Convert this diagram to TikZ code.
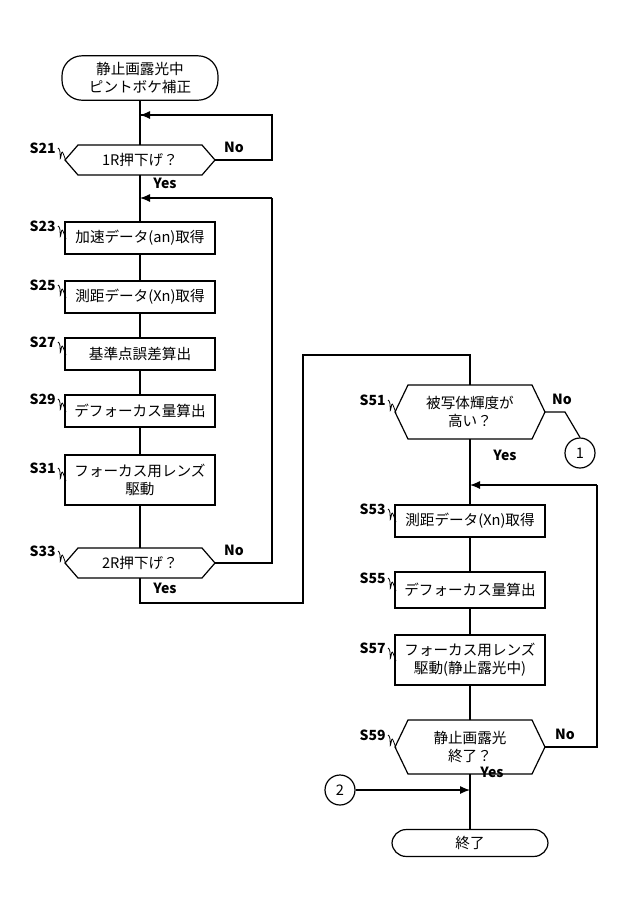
\documentclass[tikz,border=0pt]{standalone}
\usepackage{fontspec}
\setmainfont{Noto Sans CJK JP}
\usetikzlibrary{arrows.meta}
\begin{document}
\begin{tikzpicture}[x=0.5pt,y=-0.5pt,
  every node/.style={font=\fontsize{7.3}{8.8}\selectfont,align=center},
  box/.style={draw,line width=0.6pt,minimum width=75pt,inner sep=1pt},
  term/.style={draw,line width=0.6pt,rounded corners=10pt,minimum width=78pt},
  hid/.style={minimum width=60pt,inner sep=0pt},
  ln/.style={line width=0.6pt},
  arr/.style={line width=0.6pt,-{Latex[length=5pt,width=4pt]}},
  lab/.style={font=\fontsize{7}{8}\selectfont\bfseries},
  circ/.style={draw,circle,line width=0.6pt,minimum size=15pt,inner sep=0pt}]
\useasboundingbox (0,0) rectangle (640,923);
\newcommand\hexa[5]{% name, x, y, halfh(px), text
  \node[hid] (#1) at (#2,#3) {#5};
  \draw[ln] (#2-62,#3-#4) -- (#2+62,#3-#4) -- (#2+75,#3) -- (#2+62,#3+#4) -- (#2-62,#3+#4) -- (#2-75,#3) -- cycle;}
\newcommand\slab[4]{% name, text, target x,y
  \node[lab,anchor=east,inner sep=1pt] (#1) at (#3-7,#4-12) {#2};
  \draw[line width=0.4pt] (#1.east) .. controls +(2pt,-1pt) and +(-1pt,-4pt) .. (#3-4,#4-4) .. controls +(0.5pt,3pt) .. (#3+1,#4+1);}
% left column
\node[term,minimum height=22pt] (st) at (140,78) {静止画露光中\\ピントボケ補正};
\hexa{s21}{140}{160}{15}{1R押下げ？}
\node[box,minimum height=16pt] (s23) at (140,238) {加速データ(an)取得};
\node[box,minimum height=16pt] (s25) at (140,297) {測距データ(Xn)取得};
\node[box,minimum height=16pt] (s27) at (140,354) {基準点誤差算出};
\node[box,minimum height=16pt] (s29) at (140,411) {デフォーカス量算出};
\node[box,minimum height=25pt] (s31) at (140,480) {フォーカス用レンズ\\駆動};
\hexa{s33}{140}{563}{15}{2R押下げ？}
\slab{l21}{S21}{65}{160}
\slab{l23}{S23}{65}{238}
\slab{l25}{S25}{65}{297}
\slab{l27}{S27}{65}{354}
\slab{l29}{S29}{65}{411}
\slab{l31}{S31}{65}{480}
\slab{l33}{S33}{65}{563}
\coordinate (j1) at (140,115);
\coordinate (j2) at (140,198);
\draw[ln] (st) -- (140,145);
\draw[ln] (215,160) -- (272,160) -- (272,115) -- (140,115);
\draw[arr] (272,115) -- (j1);
\node[lab,anchor=south west] (n21) at (217,160) {No};
\draw[ln] (140,175) -- (s23);
\node[lab] (y21) at (165,183) {Yes};
\draw[ln] (s23) -- (s25); \draw[ln] (s25) -- (s27); \draw[ln] (s27) -- (s29);
\draw[ln] (s29) -- (s31); \draw[ln] (s31) -- (140,548);
\draw[ln] (215,563) -- (272,563) -- (272,198);
\draw[arr] (272,198) -- (j2);
\node[lab,anchor=south west] (n33) at (217,563) {No};
\node[lab] (y33) at (165,588) {Yes};
% right column
\hexa{s51}{470}{412}{27}{被写体輝度が\\高い？}
\node[box,minimum height=16pt] (s53) at (470,521) {測距データ(Xn)取得};
\node[box,minimum height=18pt] (s55) at (470,590) {デフォーカス量算出};
\node[box,minimum height=25pt] (s57) at (470,660) {フォーカス用レンズ\\駆動(静止露光中)};
\hexa{s59}{470}{747}{27}{静止画露光\\終了？}
\node[term,minimum height=13pt,rounded corners=7pt] (end) at (470,843) {終了};
\slab{l51}{S51}{395}{412}
\slab{l53}{S53}{395}{521}
\slab{l55}{S55}{395}{590}
\slab{l57}{S57}{395}{660}
\slab{l59}{S59}{395}{747}
\draw[ln] (140,578) -- (140,603) -- (303,603) -- (303,355) -- (470,355) -- (470,385);
\node[circ] (c1) at (580,453) {1};
\draw[ln] (545,412) -- (565,412) -- (c1.north);
\node[lab,anchor=south west] (n51) at (545,412) {No};
\node[lab] (y51) at (505,455) {Yes};
\coordinate (j3) at (470,485);
\draw[ln] (470,439) -- (s53.north);
\draw[ln] (545,747) -- (597,747) -- (597,485);
\draw[arr] (597,485) -- (j3);
\node[lab,anchor=south west] (n59) at (548,747) {No};
\draw[ln] (s53) -- (s55); \draw[ln] (s55) -- (s57); \draw[ln] (s57) -- (470,720);
\node[lab] (y59) at (492,772) {Yes};
\draw[ln] (470,774) -- (end);
\node[circ] (c2) at (340,790) {2};
\coordinate (j4) at (470,790);
\draw[arr] (c2) -- (j4);
\end{tikzpicture}
\end{document}
